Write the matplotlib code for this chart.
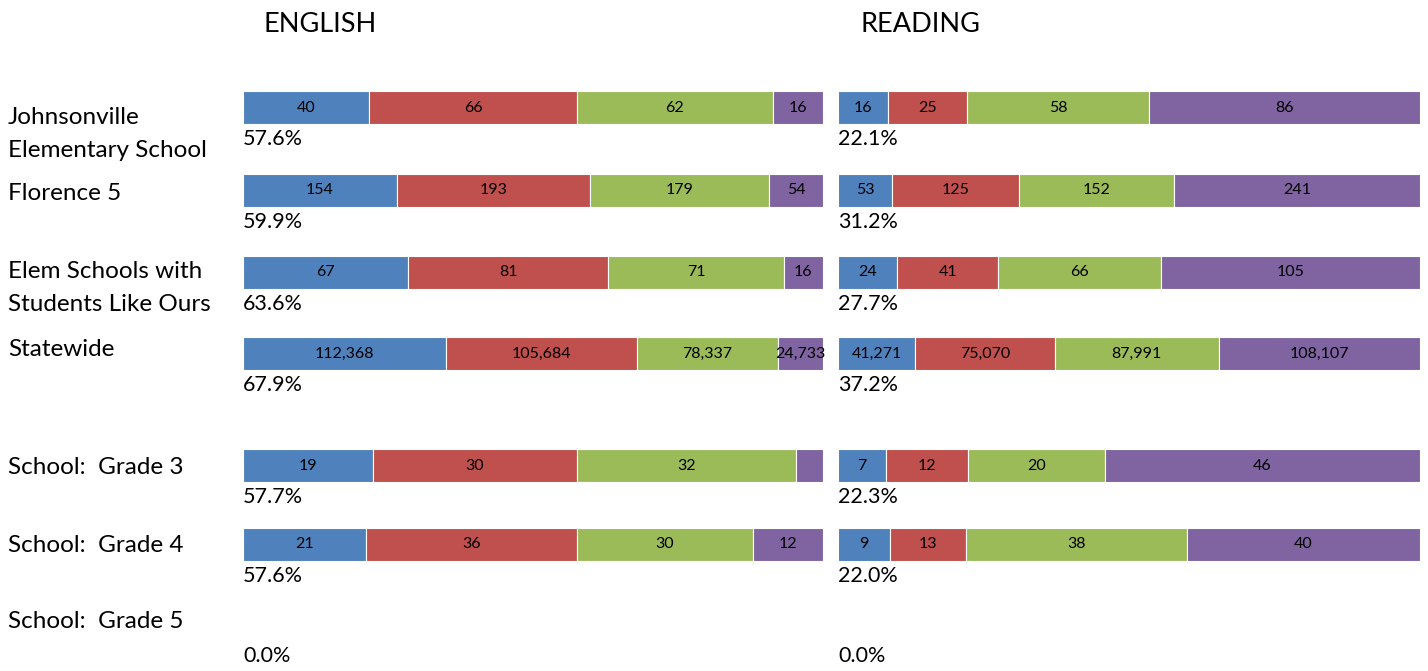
import numpy as np
import matplotlib.pyplot as plt

plt.rcParams['font.family'] = ['Lato', 'DejaVu Sans']

# row labels (left column)
row_labels = ['Johnsonville\nElementary School', 'Florence 5', 'Elem Schools with\nStudents Like Ours',
              'Statewide', 'School:  Grade 3', 'School:  Grade 4', 'School:  Grade 5']

# counts per performance level (4 segments), one list per row; Grade 5 has no data
english = [[40, 66, 62, 16],
           [154, 193, 179, 54],
           [67, 81, 71, 16],
           [112368, 105684, 78337, 24733],
           [19, 30, 32, 4],
           [21, 36, 30, 12],
           None]
reading = [[16, 25, 58, 86],
           [53, 125, 152, 241],
           [24, 41, 66, 105],
           [41271, 75070, 87991, 108107],
           [7, 12, 20, 46],
           [9, 13, 38, 40],
           None]
english_pct = [57.6, 59.9, 63.6, 67.9, 57.7, 57.6, 0.0]
reading_pct = [22.1, 31.2, 27.7, 37.2, 22.3, 22.0, 0.0]

colors = ['#4F81BD', '#C0504D', '#9BBB59', '#8064A2']

W, H = 1428, 671
fig = plt.figure(figsize=(W / 100, H / 100), dpi=100)

# layout in pixels (from top)
bar_y = [107.5, 190.5, 272.5, 353.5, 465.5, 544.5, 624]
bar_h = 33
label_y = [134, 194, 288, 349, 467, 545, 622]

def panel(x0, x1, data, pct, title, title_x):
    ax = fig.add_axes([x0 / W, 0, (x1 - x0) / W, 1])
    ax.set_xlim(0, 1)
    ax.set_ylim(H, 0)
    ax.axis('off')
    for i, row in enumerate(data):
        if row is not None:
            vals = np.array(row, dtype=float)
            frac = vals / vals.sum()
            left = 0
            for j, f in enumerate(frac):
                ax.barh(bar_y[i], f, left=left, height=bar_h, color=colors[j],
                        edgecolor='white', linewidth=0.8)
                if f > 0.05:
                    ax.text(left + f / 2, bar_y[i], f'{row[j]:,}', ha='center', va='center',
                            fontsize=11.5, color='black')
                left += f
        ax.text(0, bar_y[i] + bar_h / 2 + 15, f'{pct[i]:.1f}%', ha='left', va='center',
                fontsize=15.5, color='black')
    fig.text(title_x / W, 1 - 25 / H, title, ha='center', va='center', fontsize=19.5)

panel(243, 823, english, english_pct, 'ENGLISH', 320)
panel(838, 1420, reading, reading_pct, 'READING', 920)

for lab, y in zip(row_labels, label_y):
    fig.text(8 / W, 1 - y / H, lab, ha='left', va='center', fontsize=17.5, linespacing=1.7)

fig.savefig('out.png', dpi=100)
